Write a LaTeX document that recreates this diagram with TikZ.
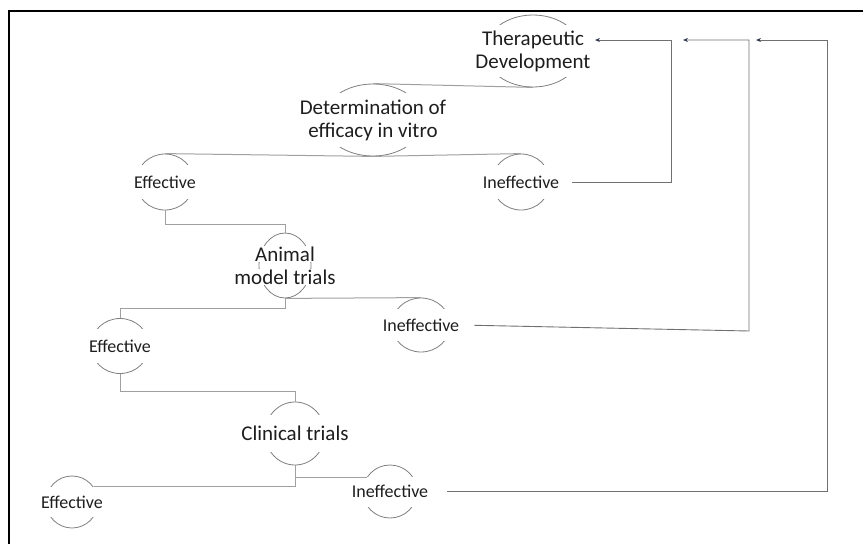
\documentclass[tikz,border=0pt]{standalone}
\usepackage{fontspec}
\setmainfont{Carlito}
\usetikzlibrary{shapes.geometric,arrows.meta,calc}
\definecolor{txtc}{HTML}{1E1E1E}
\definecolor{arcc}{HTML}{7F7F7F}
\definecolor{linec}{HTML}{A0A0A0}
\definecolor{fbc}{HTML}{707070}
\definecolor{tipc}{HTML}{2E3550}
\begin{document}
\begin{tikzpicture}[x=1pt,y=-1pt,
  oval/.style={ellipse,draw=arcc,line width=0.8pt,inner sep=0pt},
  bigt/.style={text=txtc,align=center,inner xsep=1pt,inner ysep=0pt,font=\fontsize{21}{23}\selectfont},
  smallt/.style={text=txtc,align=center,inner xsep=1pt,inner ysep=0pt,font=\fontsize{18}{20}\selectfont},
  tree/.style={draw=linec,line width=1pt},
  fb/.style={draw=fbc,line width=0.9pt,-{Stealth[length=5pt,width=4pt,color=tipc]}}]
\useasboundingbox (0,0) rectangle (863,544);
\draw[line width=2pt,black] (9,544) -- (9,11) -- (863,11);

% ellipses
\node[oval,minimum width=96pt,minimum height=72pt] (td) at (533,51) {};
\node[oval,minimum width=100pt,minimum height=72pt] (det) at (373,120) {};
\node[oval,minimum width=58pt,minimum height=56pt] (eff1) at (165,182) {};
\node[oval,minimum width=58pt,minimum height=56pt] (inef1) at (521,182) {};
\node[oval,minimum width=52pt,minimum height=65pt] (ani) at (285,265.5) {};
\node[oval,minimum width=58pt,minimum height=55pt] (eff2) at (120,346) {};
\node[oval,minimum width=58pt,minimum height=54pt] (inef2) at (421,325) {};
\node[oval,minimum width=60pt,minimum height=63pt] (cli) at (295,433.5) {};
\node[oval,minimum width=52pt,minimum height=52pt] (eff3) at (72,502) {};
\node[oval,minimum width=54pt,minimum height=53pt] (inef3) at (390,491.5) {};

% texts
\node[bigt,fill=white,minimum height=52pt] (tdt) at (td) {Therapeutic\\Development};
\node[bigt,fill=white,minimum height=54pt] (dett) at (det) {Determination of\\efficacy in vitro};
\node[smallt,fill=white,minimum height=34pt] (eff1t) at (eff1) {Effective};
\node[smallt,fill=white,minimum height=34pt] (inef1t) at (inef1) {Ineffective};
\node[bigt] (anit) at (ani) {\setlength{\fboxsep}{0.5pt}\colorbox{white}{Animal}\\\setlength{\fboxsep}{0.5pt}\colorbox{white}{model trials}};
\node[smallt,fill=white,minimum height=34pt] (eff2t) at (eff2) {Effective};
\node[smallt,fill=white,minimum height=32pt] (inef2t) at (inef2) {Ineffective};
\node[bigt,fill=white,minimum height=37pt] (clit) at (cli) {Clinical trials};
\node[smallt,fill=white,minimum height=30pt] (eff3t) at (eff3) {Effective};
\node[smallt,fill=white,minimum height=30pt] (inef3t) at (inef3) {Ineffective};

% tree connectors
\draw[tree] (det.north) -- (td.south);
\draw[tree] (eff1.north) -- (det.south) -- (inef1.north);
\draw[tree] (eff1.south) -- ++(0,14) -| (ani.north);
\draw[tree] (ani.south) -- (inef2.north);
\draw[tree] (ani.south) -- ++(0,10) -| (eff2.north);
\draw[tree] (eff2.south) -- ++(0,18) -| (cli.north);
\draw[tree] (cli.south) |- (inef3.148);
\draw[tree] (cli.south) |- (eff3.35);

% feedback arrows
\coordinate (tdin) at (595,40);
\coordinate (v1) at (671,40);
\coordinate (v2) at (749,40);
\coordinate (v3) at (827,40);
\draw[fb,shorten <=12pt] (inef1t.east) -| (v1) -- (tdin);
\draw[fb,shorten <=14pt] (inef2t.east) -- ($(v2)+(0,291)$) -- (v2) -- ($(v1)+(12,0)$);
\draw[fb,shorten <=18pt] (inef3t.east) -| (v3) -- ($(v2)+(7,0)$);
\end{tikzpicture}
\end{document}
